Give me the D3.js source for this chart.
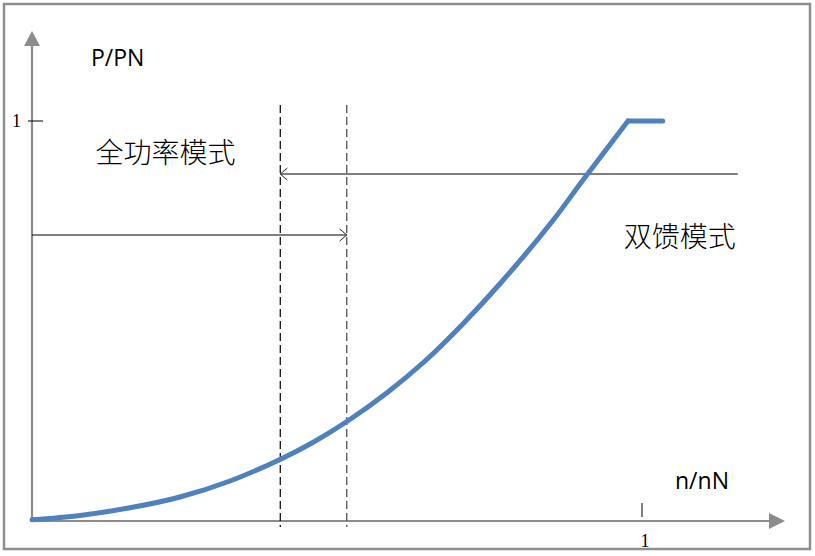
<!DOCTYPE html>
<html><head><meta charset="utf-8">
<script src="https://cdn.jsdelivr.net/npm/d3@7/dist/d3.min.js"></script>
<style>body{margin:0;background:#fff}svg{display:block}</style>
</head><body>
<svg id="c" width="815" height="556"></svg>
<script>
// Curve data (n/nN vs P/PN)
const curveX = [0, 0.0787, 0.1607, 0.2426, 0.3246, 0.4066, 0.4611, 0.5175, 0.5815, 0.6443, 0.7071, 0.7726, 0.8546, 0.9033, 0.977];
const curveY = [0.003, 0.014, 0.033, 0.060, 0.100, 0.154, 0.197, 0.25, 0.320, 0.400, 0.494, 0.6025, 0.7525, 0.8525, 1.0];
const flatX = [0.977, 1.034];
const flatY = [1.0, 1.0];
// dashed boundaries
const boundaryX = [0.407, 0.516];
// mode arrows
const arrowFrom = [0, 1.157];
const arrowTo = [0.516, 0.407];
const arrowY = [0.715, 0.8675];
const modeLabels = ["全功率模式", "双馈模式"];
const modeLabelX = [0.104, 0.970];
const modeLabelY = [0.92, 0.71];
const xTicks = [1];
const yTicks = [1];
const xTitle = "n/nN";
const yTitle = "P/PN";

const svg = d3.select("#c");
const x = d3.scaleLinear().domain([0, 1]).range([32, 642]);
const y = d3.scaleLinear().domain([0, 1]).range([521, 121]);
const axisColor = "#8c8c8c";

// outer frame
svg.append("rect").attr("x", 4).attr("y", 4).attr("width", 806).attr("height", 545)
  .attr("fill", "none").attr("stroke", "#8e8e8e").attr("stroke-width", 2.5);

// axes
const x0 = x(0), y0 = y(0);
svg.append("line").attr("x1", x0).attr("y1", y0).attr("x2", x0).attr("y2", 40)
  .attr("stroke", axisColor).attr("stroke-width", 2.2);
svg.append("path").attr("d", `M${x0-8},46 L${x0},31 L${x0+8},46 Z`).attr("fill", axisColor);
svg.append("line").attr("x1", x0).attr("y1", y0).attr("x2", 775).attr("y2", y0)
  .attr("stroke", axisColor).attr("stroke-width", 2.2);
svg.append("path").attr("d", `M769,${y0-8} L785,${y0} L769,${y0+8} Z`).attr("fill", axisColor);

// ticks
yTicks.forEach(t => {
  svg.append("line").attr("x1", x0 - 4).attr("x2", x0 + 11).attr("y1", y(t)).attr("y2", y(t))
    .attr("stroke", "#000").attr("stroke-width", 1);
  svg.append("text").attr("x", 21).attr("y", y(t) + 6).attr("text-anchor", "end")
    .attr("font-family", "Liberation Serif, serif").attr("font-size", 18).attr("fill", "#000").text(t);
});
xTicks.forEach(t => {
  svg.append("line").attr("x1", x(t)).attr("x2", x(t)).attr("y1", 503).attr("y2", 517)
    .attr("stroke", "#000").attr("stroke-width", 1);
  svg.append("text").attr("x", x(t) + 3).attr("y", 547).attr("text-anchor", "middle")
    .attr("font-family", "Liberation Serif, serif").attr("font-size", 18).attr("fill", "#000").text(t);
});

// axis titles
svg.append("text").attr("x", 91).attr("y", 66).attr("font-family", "Open Sans, Liberation Sans, sans-serif")
  .attr("font-size", 23).attr("fill", "#000").text(yTitle);
svg.append("text").attr("x", 675).attr("y", 489).attr("font-family", "Open Sans, Liberation Sans, sans-serif")
  .attr("font-size", 23).attr("fill", "#000").text(xTitle);

// dashed boundaries
boundaryX.forEach((b, i) => {
  svg.append("line").attr("x1", x(b)).attr("x2", x(b)).attr("y1", 105).attr("y2", 527)
    .attr("stroke", i === 0 ? "#000" : "#444").attr("stroke-width", 1.2).attr("stroke-dasharray", "8,4");
});

// mode arrows
arrowFrom.forEach((f, i) => {
  const xa = x(f), xb = x(arrowTo[i]), yy = y(arrowY[i]);
  const dir = xb > xa ? 1 : -1;
  svg.append("line").attr("x1", xa).attr("x2", xb).attr("y1", yy).attr("y2", yy)
    .attr("stroke", "#000").attr("stroke-width", 1);
  svg.append("path").attr("d", `M${xb - dir*7},${yy-6} L${xb},${yy} L${xb - dir*7},${yy+6}`)
    .attr("fill", "none").attr("stroke", "#222").attr("stroke-width", 1);
});

// mode labels
modeLabels.forEach((t, i) => {
  svg.append("text").attr("x", x(modeLabelX[i])).attr("y", y(modeLabelY[i]) + 10)
    .attr("text-anchor", "start")
    .attr("font-family", "Noto Sans CJK SC, sans-serif").attr("font-size", 28).attr("font-weight", 300)
    .attr("fill", "#000").text(t);
});

// curve
const line = d3.line().x(d => x(d[0])).y(d => y(d[1]));
svg.append("path").datum(curveX.map((v, i) => [v, curveY[i]]))
  .attr("d", line.curve(d3.curveCatmullRom.alpha(0.5)))
  .attr("fill", "none").attr("stroke", "#4f81bd").attr("stroke-width", 5)
  .attr("stroke-linecap", "round").attr("stroke-linejoin", "round");
svg.append("path").datum(flatX.map((v, i) => [v, flatY[i]]))
  .attr("d", d3.line().x(d => x(d[0])).y(d => y(d[1])))
  .attr("fill", "none").attr("stroke", "#4f81bd").attr("stroke-width", 5)
  .attr("stroke-linecap", "round").attr("stroke-linejoin", "round");
</script>
</body></html>
